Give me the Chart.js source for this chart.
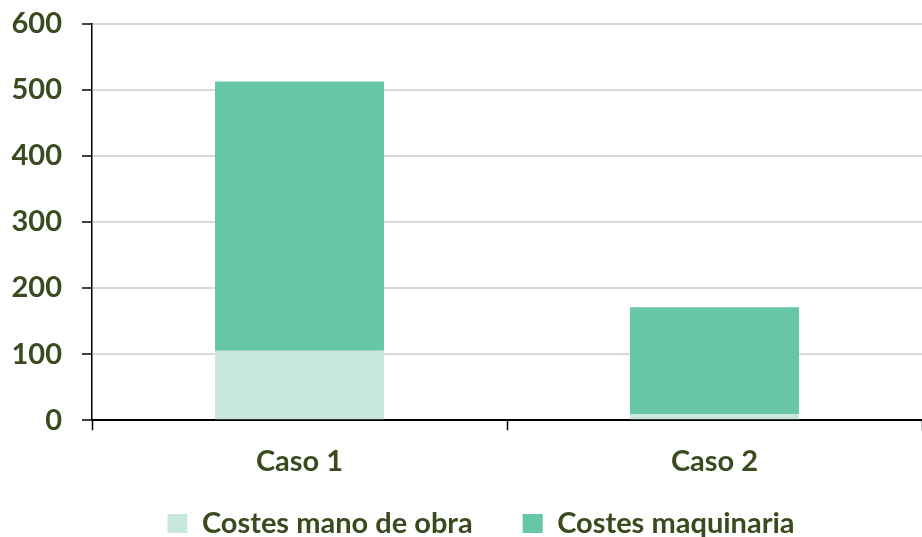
<!DOCTYPE html>
<html>
<head>
<meta charset="utf-8">
<script src="https://cdn.jsdelivr.net/npm/chart.js@4.4.1/dist/chart.umd.min.js"></script>
<style>
  html, body { margin: 0; padding: 0; background: #ffffff; }
  #wrap { width: 922px; height: 537px; }
</style>
</head>
<body>
<div id="wrap"><canvas id="grafico"></canvas></div>
<script>
// Datos del gráfico
const categorias = ['Caso 1', 'Caso 2'];
const costesManoObra = [105, 9];
const costesMaquinaria = [408, 162];
const nombresSeries = ['Costes mano de obra', 'Costes maquinaria'];

const colorTexto = '#3b4a1f';
const fuente = { family: 'Lato', size: 29, weight: 'bold' };

// Mueve la leyenda (el padding grande de la leyenda también añade alto)
const moverLeyenda = {
    id: 'moverLeyenda',
    afterLayout: function(chart) {
        const dy = 34;
        const dx = 20;
        chart.legend.top -= dy;
        chart.legend.bottom -= dy;
        chart.legend.left += dx;
        chart.legend.right += dx;
    }
};

const ctx = document.getElementById('grafico').getContext('2d');
new Chart(ctx, {
    type: 'bar',
    data: {
        labels: categorias,
        datasets: [{
            label: nombresSeries[0],
            data: costesManoObra,
            backgroundColor: '#c8e8dc',
            barPercentage: 0.407,
            categoryPercentage: 1
        }, {
            label: nombresSeries[1],
            data: costesMaquinaria,
            backgroundColor: '#66c6a6',
            barPercentage: 0.407,
            categoryPercentage: 1
        }]
    },
    plugins: [moverLeyenda],
    options: {
        responsive: true,
        maintainAspectRatio: false,
        animation: false,
        layout: { padding: { top: 0, right: 0, left: 0, bottom: -45 } },
        plugins: {
            tooltip: { enabled: false },
            legend: {
                position: 'bottom',
                labels: {
                    color: colorTexto,
                    font: fuente,
                    boxWidth: 20,
                    boxHeight: 19,
                    padding: 50
                }
            }
        },
        scales: {
            x: {
                stacked: true,
                grid: {
                    display: true,
                    drawOnChartArea: false,
                    tickLength: 10,
                    tickColor: '#000000',
                    tickWidth: 1.5
                },
                border: { color: '#000000', width: 2 },
                ticks: { color: colorTexto, font: fuente, padding: 14 }
            },
            y: {
                stacked: true,
                min: 0,
                max: 600,
                grid: {
                    color: '#d9d9d9',
                    lineWidth: 2,
                    tickLength: 10,
                    tickColor: '#000000',
                    tickWidth: 1.5
                },
                border: { color: '#000000', width: 1.5 },
                ticks: { stepSize: 100, color: colorTexto, font: fuente, padding: 20 },
                afterFit: function(scale) {
                    scale.width = 92;
                    scale.paddingTop = 24;
                }
            }
        }
    }
});
</script>
</body>
</html>
